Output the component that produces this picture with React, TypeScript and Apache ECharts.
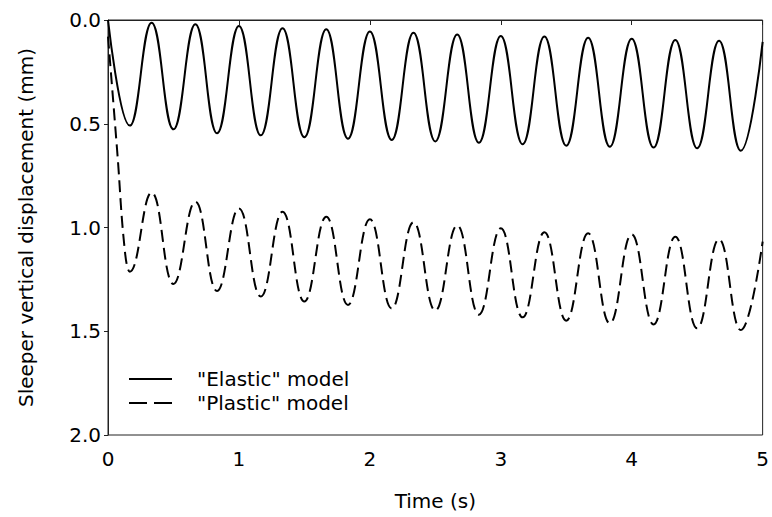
import React, { useEffect, useRef } from "react";
import * as echarts from "echarts";

// Time stamps (s) and vertical displacement (mm)
const elasticTime = [
  0, 0.167, 0.333, 0.5, 0.667, 0.833, 1.0, 1.167, 1.333, 1.5, 1.667, 1.833, 2.0,
  2.167, 2.333, 2.5, 2.667, 2.833, 3.0, 3.167, 3.333, 3.5, 3.667, 3.833, 4.0,
  4.167, 4.333, 4.5, 4.667, 4.833, 5.0,
];
const elasticDisp = [
  0, 0.509, 0.013, 0.527, 0.021, 0.546, 0.029, 0.556, 0.04, 0.565, 0.045, 0.572,
  0.055, 0.578, 0.062, 0.585, 0.07, 0.592, 0.077, 0.599, 0.08, 0.606, 0.085,
  0.611, 0.09, 0.615, 0.096, 0.618, 0.1, 0.63, 0.105,
];

const plasticTime = [
  0, 0.07, 0.13, 0.167, 0.333, 0.5, 0.667, 0.833, 1.0, 1.167, 1.333, 1.5, 1.667,
  1.833, 2.0, 2.167, 2.333, 2.5, 2.667, 2.833, 3.0, 3.167, 3.333, 3.5, 3.667,
  3.833, 4.0, 4.167, 4.333, 4.5, 4.667, 4.833, 5.0,
];
const plasticDisp = [
  0.08, 0.63, 1.12, 1.213, 0.832, 1.272, 0.876, 1.306, 0.908, 1.333, 0.924,
  1.357, 0.948, 1.373, 0.96, 1.39, 0.975, 1.4, 0.99, 1.42, 1.004, 1.433, 1.023,
  1.449, 1.028, 1.462, 1.033, 1.467, 1.044, 1.486, 1.057, 1.494, 1.068,
];

const xTicks = [0, 1, 2, 3, 4, 5];
const yTicks = [0, 0.5, 1.0, 1.5, 2.0];
const seriesNames = ['"Elastic" model', '"Plastic" model'];

const FONT = "DejaVu Sans";

export default function App() {
  const ref = useRef<HTMLDivElement>(null);

  useEffect(() => {
    if (!ref.current) return;
    const chart = echarts.init(ref.current, undefined, { renderer: "svg" });
    const pair = (t: number[], v: number[]) => t.map((x, i) => [x, v[i]]);

    chart.setOption({
      animation: false,
      backgroundColor: "#fff",
      textStyle: { fontFamily: FONT, color: "#000" },
      grid: {
        left: 108,
        right: 7,
        top: 20,
        bottom: 82,
        show: true,
        borderColor: "#222",
        borderWidth: 1,
        backgroundColor: "transparent",
      },
      xAxis: {
        type: "value",
        min: xTicks[0],
        max: xTicks[xTicks.length - 1],
        interval: 1,
        name: "Time (s)",
        nameLocation: "middle",
        nameGap: 56,
        nameTextStyle: { fontSize: 20, color: "#000", fontFamily: FONT },
        axisLine: { show: true, lineStyle: { color: "#222", width: 1 } },
        axisTick: { show: true, inside: false, length: 5, lineStyle: { color: "#222" } },
        axisLabel: { fontSize: 20, color: "#000", margin: 14, fontFamily: FONT },
        splitLine: { show: false },
      },
      yAxis: {
        type: "value",
        inverse: true,
        min: yTicks[0],
        max: yTicks[yTicks.length - 1],
        interval: 0.5,
        name: "Sleeper vertical displacement (mm)",
        nameLocation: "middle",
        nameGap: 72,
        nameRotate: 90,
        nameTextStyle: { fontSize: 20, color: "#000", fontFamily: FONT },
        axisLine: { show: true, lineStyle: { color: "#222", width: 1 } },
        axisTick: { show: true, inside: false, length: 4, lineStyle: { color: "#222" } },
        axisLabel: {
          fontSize: 20,
          color: "#000",
          margin: 7,
          fontFamily: FONT,
          formatter: (v: number) => v.toFixed(1),
        },
        splitLine: { show: false },
      },
      series: [
        {
          name: seriesNames[0],
          type: "line",
          data: pair(elasticTime, elasticDisp),
          smooth: 0.45,
          symbol: "none",
          lineStyle: { color: "#000", width: 2 },
        },
        {
          name: seriesNames[1],
          type: "line",
          data: pair(plasticTime, plasticDisp),
          smooth: 0.45,
          symbol: "none",
          lineStyle: { color: "#000", width: 2, type: [12, 6] },
        },
      ],
      graphic: [
        {
          type: "line",
          shape: { x1: 129, y1: 379, x2: 172, y2: 379 },
          style: { stroke: "#000", lineWidth: 2 },
        },
        {
          type: "line",
          shape: { x1: 129, y1: 403, x2: 172, y2: 403 },
          style: { stroke: "#000", lineWidth: 2, lineDash: [18, 7] },
        },
        {
          type: "text",
          x: 197,
          y: 379,
          style: {
            text: seriesNames[0],
            fontSize: 20,
            fontFamily: FONT,
            fill: "#000",
            verticalAlign: "middle",
          },
        },
        {
          type: "text",
          x: 197,
          y: 403,
          style: {
            text: seriesNames[1],
            fontSize: 20,
            fontFamily: FONT,
            fill: "#000",
            verticalAlign: "middle",
          },
        },
      ],
    });

    return () => chart.dispose();
  }, []);

  return <div ref={ref} style={{ width: 772, height: 517, position: "absolute", left: 0, top: 0 }} />;
}
